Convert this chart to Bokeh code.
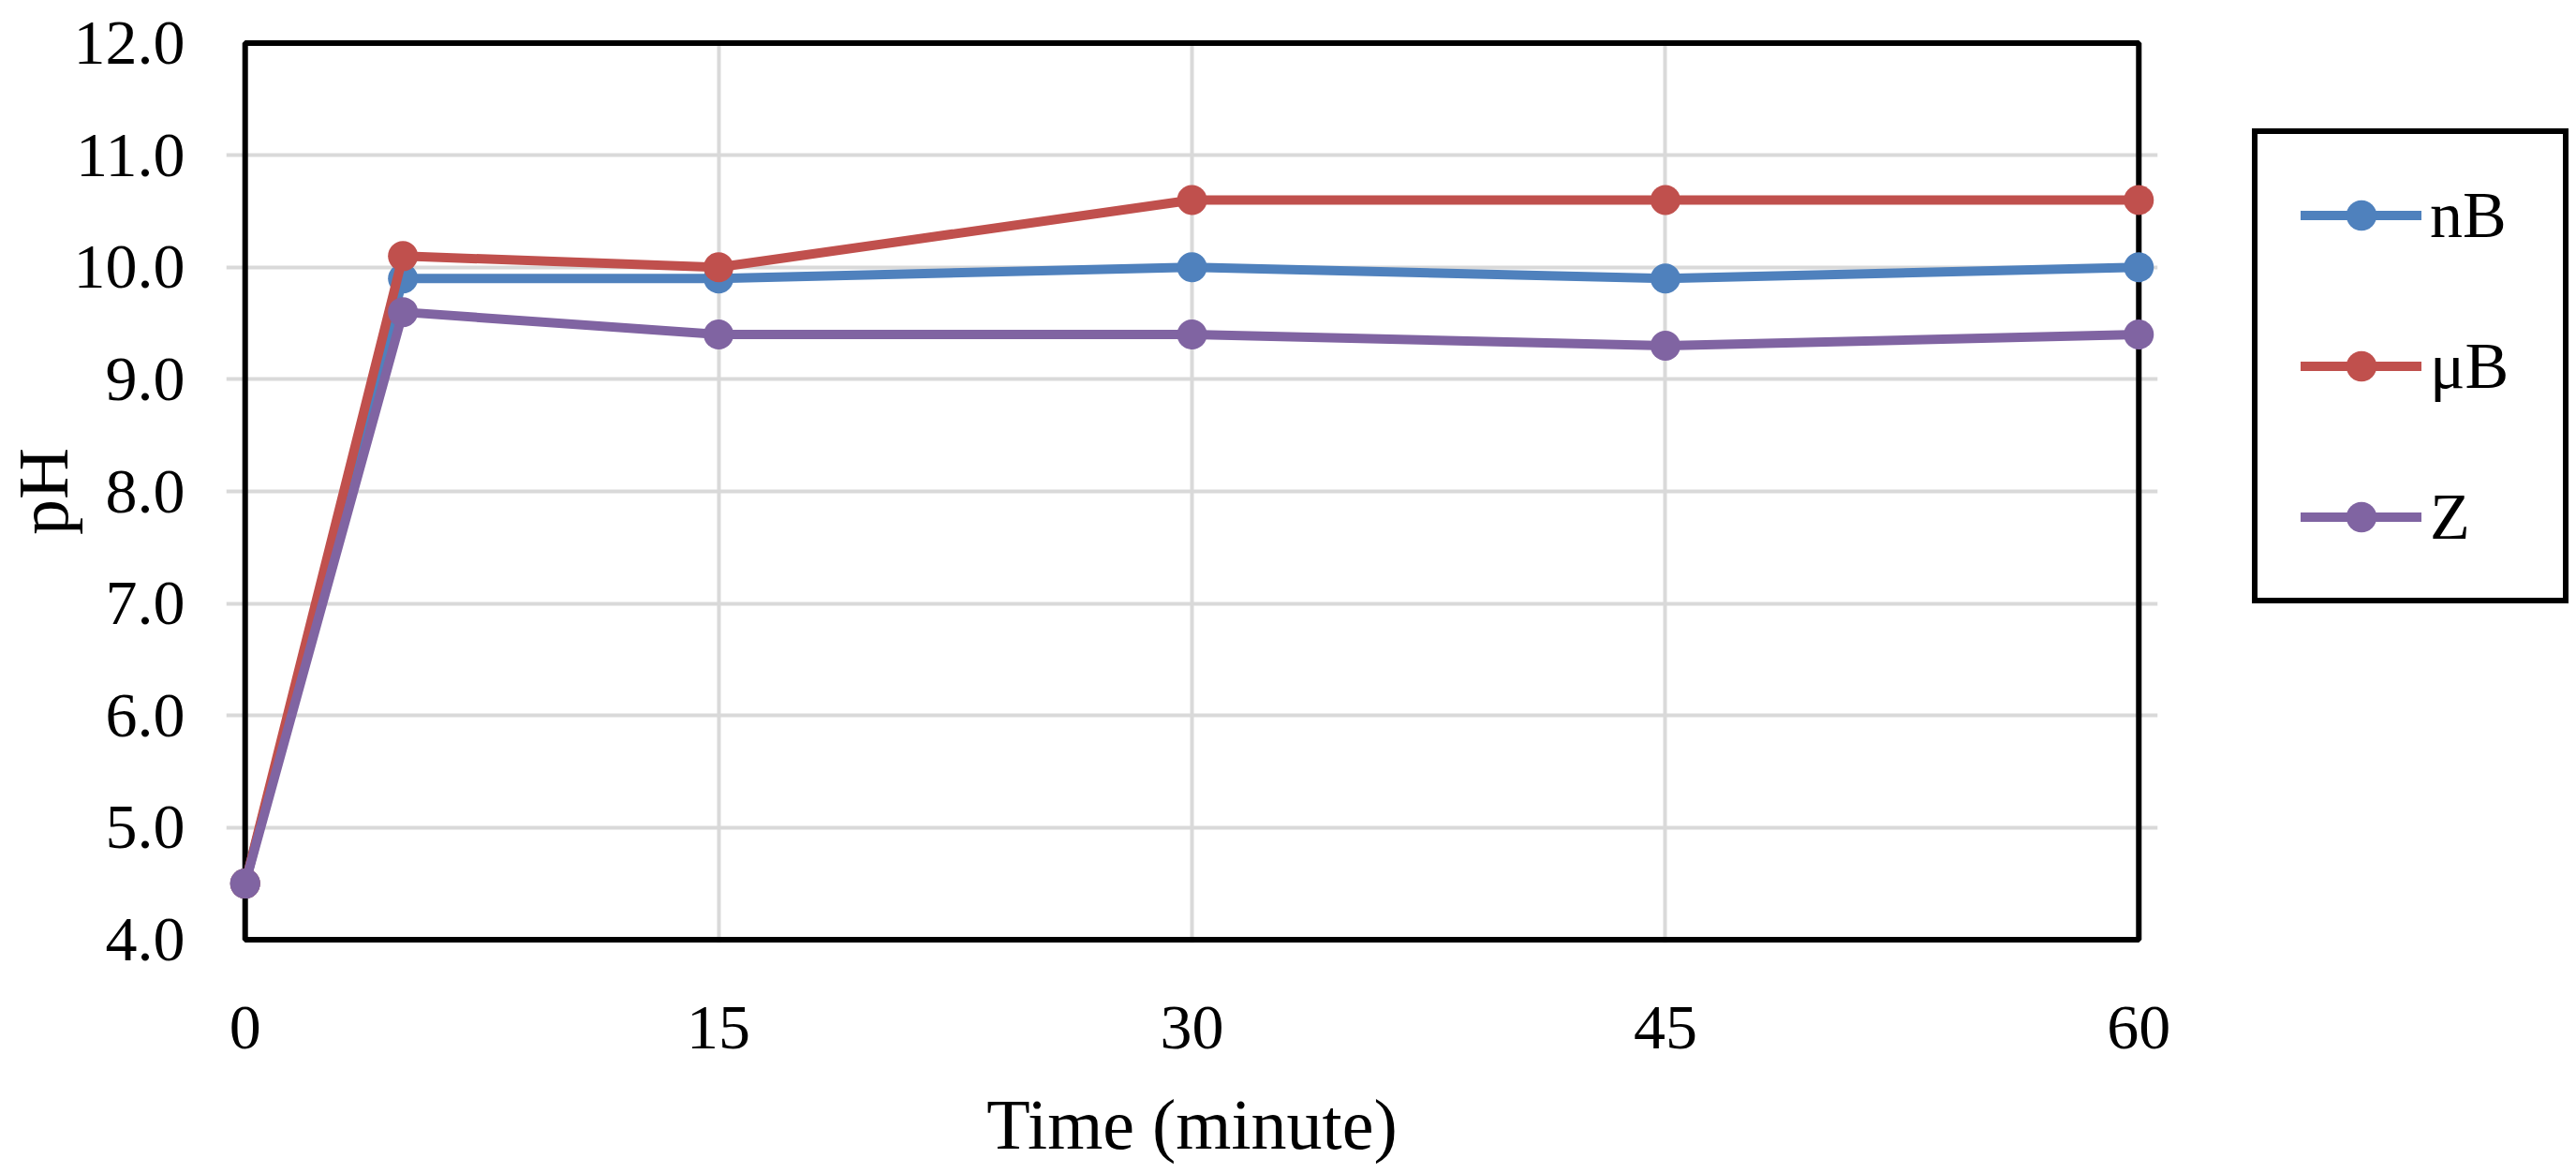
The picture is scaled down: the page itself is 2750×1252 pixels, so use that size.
from bokeh.plotting import figure
from bokeh.models import FixedTicker, PrintfTickFormatter, BoxAnnotation, Range1d
from bokeh.embed import file_html
from bokeh.resources import INLINE

# ---- data ----
time_min = [0, 5, 15, 30, 45, 60]
ph_nB = [4.5, 9.9, 9.9, 10.0, 9.9, 10.0]
ph_uB = [4.5, 10.1, 10.0, 10.6, 10.6, 10.6]
ph_Z = [4.5, 9.6, 9.4, 9.4, 9.3, 9.4]
series_names = ["nB", "μB", "Z"]
series_colors = ["#4F81BD", "#C0504D", "#8064A2"]
x_ticks = [0, 15, 30, 45, 60]
y_ticks = [4, 5, 6, 7, 8, 9, 10, 11, 12]
x_title = "Time (minute)"
y_title = "pH"

FONT = "Liberation Serif"

p = figure(frame_width=2062, frame_height=964,
           x_range=Range1d(-0.6, 60.6), y_range=Range1d(3.97, 12.03),
           output_backend="svg", toolbar_location=None,
           min_border_left=232, min_border_right=440,
           min_border_top=42, min_border_bottom=229)

p.outline_line_color = None
p.background_fill_color = "white"
p.border_fill_color = "white"

# grids (the outer edges are covered by the plot-area border)
p.xgrid.ticker = FixedTicker(ticks=x_ticks[1:-1])
p.ygrid.ticker = FixedTicker(ticks=y_ticks[1:-1])
for g in (p.xgrid, p.ygrid):
    g.grid_line_color = "#D9D9D9"
    g.grid_line_width = 4
p.ygrid.bounds = (x_ticks[0], x_ticks[-1])
p.xgrid.bounds = (y_ticks[0], y_ticks[-1])

# plot-area border
p.add_layout(BoxAnnotation(left=x_ticks[0], right=x_ticks[-1],
                           bottom=y_ticks[0], top=y_ticks[-1],
                           fill_color=None, fill_alpha=0,
                           line_color="black", line_alpha=1.0,
                           line_width=6, level="underlay"))

# axes
p.xaxis.ticker = FixedTicker(ticks=x_ticks)
p.yaxis.ticker = FixedTicker(ticks=y_ticks)
p.yaxis.formatter = PrintfTickFormatter(format="%.1f")
for ax in (p.xaxis[0], p.yaxis[0]):
    ax.axis_line_color = None
    ax.major_tick_line_color = None
    ax.minor_tick_line_color = None
    ax.major_tick_out = 0
    ax.major_tick_in = 0
    ax.major_label_text_font = FONT
    ax.major_label_text_font_size = "68px"
    ax.major_label_text_color = "black"
    ax.axis_label_text_font = FONT
    ax.axis_label_text_font_style = "normal"
    ax.axis_label_text_color = "black"
p.xaxis.axis_label = x_title
p.yaxis.axis_label = y_title
p.xaxis.axis_label_text_font_size = "76px"
p.yaxis.axis_label_text_font_size = "76px"
p.yaxis.major_label_standoff = 44
p.xaxis.major_label_standoff = 68
p.yaxis.axis_label_standoff = -12
p.xaxis.axis_label_standoff = 36

# series
for name, vals, col in zip(series_names, [ph_nB, ph_uB, ph_Z], series_colors):
    p.line(time_min, vals, line_color=col, line_width=10, line_join="round",
           line_cap="round", legend_label=name)
    p.scatter(time_min, vals, size=32, fill_color=col, line_color=col,
              line_width=0, legend_label=name)

lg = p.legend[0]
p.center.remove(lg)
p.add_layout(lg, "right")
lg.location = (101, 362)
lg.margin = 0
lg.padding = 46
lg.spacing = 80
lg.glyph_width = 129
lg.glyph_height = 81
lg.label_height = 81
lg.label_width = 96
lg.label_standoff = 9
lg.label_text_font = FONT
lg.label_text_font_size = "70px"
lg.label_text_color = "black"
lg.border_line_color = "black"
lg.border_line_alpha = 1.0
lg.border_line_width = 6
lg.background_fill_color = "white"
lg.background_fill_alpha = 1.0

open("out.html", "w").write(file_html(p, INLINE))
